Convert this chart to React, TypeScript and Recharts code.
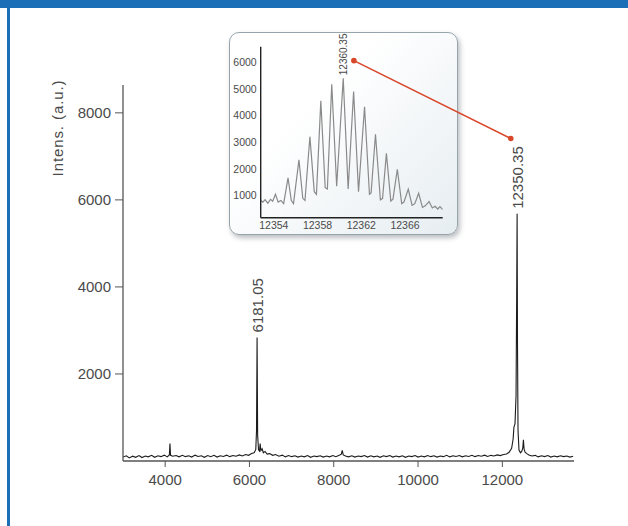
import { LineChart, Line, XAxis, YAxis, ReferenceDot, ReferenceLine } from 'recharts';

// main MALDI spectrum, [m/z, intensity]
const mainSpectrum: [number, number][] = [
  [3000, 90], [3080, 120], [3150, 70], [3230, 110], [3300, 85], [3380, 125], [3450, 80], [3530, 115],
  [3600, 95], [3680, 130], [3750, 85], [3830, 120], [3900, 100], [3980, 135], [4050, 95], [4100, 140],
  [4114, 400], [4128, 130], [4180, 110], [4260, 125], [4330, 95], [4410, 130], [4480, 100], [4560, 120],
  [4630, 90], [4710, 135], [4780, 105], [4860, 120], [4930, 85], [5010, 125], [5080, 100], [5160, 130],
  [5230, 90], [5310, 120], [5380, 105], [5460, 135], [5530, 100], [5610, 125], [5680, 110], [5760, 140],
  [5830, 115], [5910, 150], [5980, 130], [6050, 170], [6110, 190], [6150, 260], [6168, 700], [6181.05, 2840],
  [6194, 600], [6215, 260], [6238, 230], [6254, 400], [6270, 240], [6300, 280], [6330, 190], [6370, 220],
  [6420, 160], [6480, 170], [6550, 130], [6620, 150], [6700, 110], [6780, 135], [6850, 95], [6930, 125],
  [7000, 100], [7080, 120], [7150, 90], [7230, 115], [7300, 95], [7380, 125], [7450, 85], [7530, 115],
  [7600, 100], [7680, 120], [7750, 90], [7830, 115], [7900, 95], [7980, 125], [8050, 100], [8130, 130],
  [8180, 160], [8202, 245], [8225, 140], [8280, 115], [8350, 95], [8430, 120], [8500, 90], [8580, 115],
  [8650, 100], [8730, 125], [8800, 90], [8880, 120], [8950, 95], [9030, 115], [9100, 85], [9180, 120],
  [9250, 100], [9330, 125], [9400, 90], [9480, 115], [9550, 95], [9630, 120], [9700, 85], [9780, 115],
  [9850, 100], [9930, 125], [10000, 90], [10080, 115], [10150, 95], [10230, 125], [10300, 100], [10380, 120],
  [10450, 90], [10530, 115], [10600, 100], [10680, 130], [10750, 95], [10830, 120], [10900, 105], [10980, 125],
  [11050, 95], [11130, 120], [11200, 105], [11280, 130], [11350, 100], [11430, 125], [11500, 110], [11580, 135],
  [11650, 105], [11730, 130], [11800, 115], [11880, 140], [11950, 125], [12030, 150], [12100, 160], [12160, 200],
  [12220, 290], [12255, 500], [12275, 780], [12300, 850], [12325, 1500], [12340, 3800], [12350.35, 5680], [12360, 2600],
  [12372, 700], [12395, 250], [12430, 190], [12460, 220], [12485, 300], [12500, 490], [12515, 280], [12540, 200],
  [12580, 170], [12630, 140], [12700, 115], [12780, 130], [12850, 95], [12930, 120], [13000, 100], [13080, 125],
  [13150, 90], [13230, 115], [13300, 95], [13380, 120], [13450, 100], [13530, 115], [13600, 90], [13680, 110],
];

// zoomed isotope envelope of the 12350 peak
const insetSpectrum: [number, number][] = [
  [12352.8, 820], [12353.0, 760], [12353.2, 850], [12353.45, 720], [12353.7, 860], [12353.9, 790],
  [12354.15, 1050], [12354.4, 760], [12354.65, 820], [12354.9, 700], [12355.3, 1670], [12355.6, 820],
  [12355.8, 700], [12356.3, 2340], [12356.65, 900], [12356.85, 820], [12357.3, 3210], [12357.7, 1150],
  [12357.9, 1050], [12358.3, 4550], [12358.7, 1300], [12358.9, 1250], [12359.3, 5170], [12359.75, 1350],
  [12360.35, 5400], [12360.8, 1250], [12361.3, 4900], [12361.75, 1150], [12362.3, 4330], [12362.75, 1050],
  [12362.9, 1100], [12363.3, 3300], [12363.75, 840], [12363.95, 900], [12364.3, 2590], [12364.7, 800],
  [12364.9, 870], [12365.3, 1990], [12365.7, 700], [12365.9, 760], [12366.3, 1240], [12366.65, 640],
  [12366.9, 700], [12367.25, 1090], [12367.6, 560], [12367.85, 620], [12368.2, 780], [12368.5, 540],
  [12368.75, 600], [12369.0, 500], [12369.2, 590], [12369.45, 480],
];

const mainXTicks = [4000, 6000, 8000, 10000, 12000];
const mainYTicks = [2000, 4000, 6000, 8000];
const insetXTicks = [12354, 12358, 12362, 12366];
const insetYTicks = [1000, 2000, 3000, 4000, 5000, 6000];

const mainPeaks = [
  { mz: 6181.05, intensity: 2840, text: '6181.05' },
  { mz: 12350.35, intensity: 5680, text: '12350.35' },
];
const insetPeak = { mz: 12360.35, intensity: 5400, text: '12360.35' };

// red connector, in main-chart data units
const connector = [
  { x: 8478, y: 9200 },
  { x: 12200, y: 7410 },
];

const mainData = mainSpectrum.map(([mz, intensity]) => ({ mz, intensity }));
const insetData = insetSpectrum.map(([mz, intensity]) => ({ mz, intensity }));

const FONT = '"Liberation Sans", Arial, Helvetica, sans-serif';
const RED = '#d9472b';
const TEXT = '#4a4a4a';

const PeakLabel = (props: any) => {
  const vb = props.viewBox || {};
  const x = (vb.x ?? props.x ?? 0) + (vb.width ?? 0) / 2;
  const y = (vb.y ?? props.y ?? 0) - props.gap;
  return (
    <text
      x={x}
      y={y}
      transform={`rotate(-90 ${x} ${y})`}
      textAnchor="start"
      dominantBaseline="central"
      fontSize={props.size}
      fontFamily={FONT}
      fill={TEXT}
    >
      {props.text}
    </text>
  );
};

const MainChart = () => (
  <LineChart
    width={628}
    height={526}
    data={mainData}
    margin={{ top: 85, right: 54, bottom: 35, left: 63 }}
  >
    <XAxis
      dataKey="mz"
      type="number"
      domain={[3000, 13700]}
      ticks={mainXTicks}
      allowDataOverflow
      height={30}
      tickSize={6}
      tickMargin={7}
      axisLine={{ stroke: '#555', strokeWidth: 1.3 }}
      tickLine={{ stroke: '#555' }}
      tick={{ fill: TEXT, fontSize: 15, fontFamily: FONT }}
    />
    <YAxis
      type="number"
      domain={[0, 8640]}
      ticks={mainYTicks}
      allowDataOverflow
      width={60}
      tickSize={8}
      tickMargin={4}
      axisLine={{ stroke: '#555', strokeWidth: 1.3 }}
      tickLine={{ stroke: '#555' }}
      tick={{ fill: TEXT, fontSize: 15, fontFamily: FONT }}
    />
    <Line
      type="linear"
      dataKey="intensity"
      stroke="#1c1c1c"
      strokeWidth={1.1}
      dot={false}
      isAnimationActive={false}
    />
    {mainPeaks.map((p) => (
      <ReferenceDot
        key={p.text}
        x={p.mz}
        y={p.intensity}
        r={0}
        stroke="none"
        fill="none"
        label={<PeakLabel text={p.text} size={15} gap={5} />}
      />
    ))}
    <ReferenceLine segment={connector} stroke={RED} strokeWidth={1.6} ifOverflow="visible" />
    {connector.map((c, i) => (
      <ReferenceDot key={i} x={c.x} y={c.y} r={2.8} fill={RED} stroke="none" ifOverflow="visible" />
    ))}
  </LineChart>
);

const InsetChart = () => (
  <LineChart
    width={229}
    height={203}
    data={insetData}
    margin={{ top: 14.7, right: 15.3, bottom: 0, left: 0 }}
  >
    <XAxis
      dataKey="mz"
      type="number"
      domain={[12352.8, 12369.45]}
      ticks={insetXTicks}
      allowDataOverflow
      height={17.3}
      tickLine={false}
      tickSize={0}
      tickMargin={4}
      axisLine={{ stroke: '#222', strokeWidth: 1.4 }}
      tick={{ fill: TEXT, fontSize: 10.5, fontFamily: FONT }}
    />
    <YAxis
      type="number"
      domain={[175, 6580]}
      ticks={insetYTicks}
      allowDataOverflow
      width={31.7}
      tickLine={false}
      tickSize={0}
      tickMargin={4}
      axisLine={{ stroke: '#222', strokeWidth: 1.4 }}
      tick={{ fill: TEXT, fontSize: 10.5, fontFamily: FONT }}
    />
    <Line
      type="linear"
      dataKey="intensity"
      stroke="#8a8a8a"
      strokeWidth={1.2}
      dot={false}
      isAnimationActive={false}
    />
    <ReferenceDot
      x={insetPeak.mz}
      y={insetPeak.intensity}
      r={0}
      stroke="none"
      fill="none"
      label={<PeakLabel text={insetPeak.text} size={10} gap={3} />}
    />
  </LineChart>
);

export default function App() {
  return (
    <div
      style={{
        position: 'absolute',
        left: 0,
        top: 0,
        width: 628,
        height: 526,
        background: '#fff',
        overflow: 'hidden',
        fontFamily: FONT,
      }}
    >
      <div style={{ position: 'absolute', left: 0, top: 0, width: 628, height: 8, background: '#1a6fb7' }} />
      <div style={{ position: 'absolute', left: 7, top: 0, width: 3, height: 526, background: '#1a6fb7' }} />
      <div
        style={{
          position: 'absolute',
          left: 229,
          top: 32,
          width: 229,
          height: 203,
          boxSizing: 'border-box',
          border: '1.5px solid #98a4ab',
          borderRadius: 10,
          background: 'linear-gradient(135deg, #ffffff 35%, #e6edf1 100%)',
          boxShadow: '2px 3px 5px rgba(60,70,80,0.35)',
        }}
      />
      <div style={{ position: 'absolute', left: 229, top: 32 }}>
        <InsetChart />
      </div>
      <div style={{ position: 'absolute', left: 0, top: 0 }}>
        <MainChart />
      </div>
      <div
        style={{
          position: 'absolute',
          left: 57,
          top: 128,
          transform: 'translate(-50%, -50%) rotate(-90deg)',
          whiteSpace: 'nowrap',
          fontSize: 15,
          letterSpacing: 0.9,
          color: TEXT,
        }}
      >
        Intens. (a.u.)
      </div>
    </div>
  );
}
